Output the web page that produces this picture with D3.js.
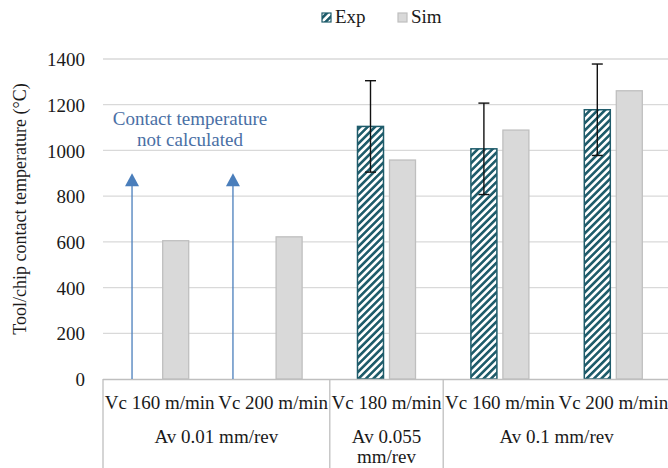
<!DOCTYPE html>
<html>
<head>
<meta charset="utf-8">
<script src="https://cdn.jsdelivr.net/npm/d3@7/dist/d3.min.js"></script>
</head>
<body style="margin:0">
<script>
// Cutting conditions (one entry per bar cluster)
const categories = ["Vc 160 m/min", "Vc 200 m/min", "Vc 180 m/min", "Vc 160 m/min", "Vc 200 m/min"];
const groups = [
  { label: ["Av 0.01 mm/rev"], span: 2 },
  { label: ["Av 0.055", "mm/rev"], span: 1 },
  { label: ["Av 0.1 mm/rev"], span: 2 }
];
// Measured (null = not calculated) and simulated contact temperatures, °C
const expValues = [null, null, 1105, 1007, 1178];
const expError  = [null, null, 200, 200, 200];
const simValues = [605, 622, 958, 1089, 1261];
const yTicks = [0, 200, 400, 600, 800, 1000, 1200, 1400];
// "not calculated" arrows: position along category index, tip value
const arrowPos = [0.256, 1.146];
const arrowTip = 900;

const W = 668, H = 468;
const mLeft = 103, mRight = 670, mTop = 59, mBottom = 379;
const FONT = "Liberation Serif";
const INK = "#1a1a1a";

// apply the serif face and size to a text selection
function serif(sel, size) {
  return sel.attr("font-size", size).style("font-family", FONT);
}

const svg = d3.select("body").append("svg").attr("width", W).attr("height", H)
  .style("display", "block");

const defs = svg.append("defs");
const pat = defs.append("pattern")
  .attr("id", "hatch").attr("patternUnits", "userSpaceOnUse")
  .attr("width", 5.2).attr("height", 5.2)
  .attr("patternTransform", "rotate(45)");
pat.append("rect").attr("width", 5.2).attr("height", 5.2).attr("fill", "#fff");
pat.append("line").attr("x1", 1.3).attr("y1", 0).attr("x2", 1.3).attr("y2", 5.2)
  .attr("stroke", "#1f5c6b").attr("stroke-width", 2.6);

const ids = categories.map((c, i) => i);
const x0 = d3.scaleBand().domain(ids).range([mLeft, mRight]).padding(0);
const x1 = d3.scaleBand().domain(["Exp", "Sim"]).range([0, 58]).paddingInner(0.1875);
const xi = d3.scaleLinear().domain([0, categories.length]).range([mLeft, mRight]);
const y = d3.scaleLinear().domain([0, 1400]).range([mBottom, mTop]);

// gridlines
svg.append("g").selectAll("line").data(yTicks.filter(t => t > 0)).join("line")
  .attr("x1", mLeft).attr("x2", W).attr("y1", d => y(d)).attr("y2", d => y(d))
  .attr("stroke", "#d9d9d9").attr("stroke-width", 1.3);

// y axis labels
const yAxis = d3.axisLeft(y).tickValues(yTicks).tickFormat(d3.format("d"))
  .tickSize(0).tickPadding(0);
const ya = svg.append("g").attr("transform", `translate(${mLeft - 18},0)`).call(yAxis);
ya.attr("font-family", null).attr("font-size", null);
ya.select(".domain").remove();
serif(ya.selectAll("text"), 19).attr("fill", INK).attr("dy", "0.35em");

// y axis title
serif(svg.append("text"), 18)
  .attr("transform", `translate(26,209) rotate(-90)`)
  .attr("text-anchor", "middle").attr("fill", INK)
  .text("Tool/chip contact temperature (°C)");

const off = (x0.bandwidth() - 58) / 2;

// simulated bars
svg.append("g").selectAll("rect").data(ids).join("rect")
  .attr("x", i => x0(i) + off + x1("Sim"))
  .attr("y", i => y(simValues[i]))
  .attr("width", x1.bandwidth())
  .attr("height", i => y(0) - y(simValues[i]))
  .attr("fill", "#d9d9d9").attr("stroke", "#bfbfbf").attr("stroke-width", 1.3);

// experimental bars
const expIds = ids.filter(i => expValues[i] != null);
svg.append("g").selectAll("rect").data(expIds).join("rect")
  .attr("x", i => x0(i) + off + x1("Exp"))
  .attr("y", i => y(expValues[i]))
  .attr("width", x1.bandwidth())
  .attr("height", i => y(0) - y(expValues[i]))
  .attr("fill", "url(#hatch)").attr("stroke", "#1f5c6b").attr("stroke-width", 1.5);

// error bars
const eb = svg.append("g").attr("stroke", "#111").attr("stroke-width", 1.4);
expIds.forEach(i => {
  const cx = x0(i) + off + x1("Exp") + x1.bandwidth() / 2;
  const hi = y(expValues[i] + expError[i]), lo = y(expValues[i] - expError[i]);
  eb.append("line").attr("x1", cx).attr("x2", cx).attr("y1", hi).attr("y2", lo);
  eb.append("line").attr("x1", cx - 5.5).attr("x2", cx + 5.5).attr("y1", hi).attr("y2", hi);
  eb.append("line").attr("x1", cx - 5.5).attr("x2", cx + 5.5).attr("y1", lo).attr("y2", lo);
});

// category axis
const axisColor = "#bfbfbf";
svg.append("line").attr("x1", mLeft).attr("x2", W).attr("y1", y(0) + 0.5).attr("y2", y(0) + 0.5)
  .attr("stroke", axisColor).attr("stroke-width", 1.3);
serif(svg.append("g").selectAll("text").data(ids).join("text"), 19)
  .attr("x", i => x0(i) + x0.bandwidth() / 2).attr("y", 409)
  .attr("text-anchor", "middle").attr("fill", INK)
  .text(i => categories[i]);

let start = 0;
const boundaries = [0];
groups.forEach(g => {
  const cx = xi(start + g.span / 2);
  g.label.forEach((t, k) => {
    serif(svg.append("text"), 19).attr("x", cx).attr("y", 443 + k * 20)
      .attr("text-anchor", "middle").attr("fill", INK).text(t);
  });
  start += g.span;
  boundaries.push(start);
});
svg.append("g").selectAll("line").data(boundaries).join("line")
  .attr("x1", d => xi(d)).attr("x2", d => xi(d))
  .attr("y1", y(0)).attr("y2", H)
  .attr("stroke", axisColor).attr("stroke-width", 1.3);

// "not calculated" arrows
const blue = "#4a7ebb";
arrowPos.forEach(p => {
  const ax = xi(p), tipY = y(arrowTip);
  svg.append("line").attr("x1", ax).attr("x2", ax).attr("y1", y(0)).attr("y2", tipY + 10)
    .attr("stroke", blue).attr("stroke-width", 1.3);
  svg.append("path")
    .attr("d", `M${ax},${tipY} L${ax + 7},${tipY + 13} L${ax - 7},${tipY + 13} Z`)
    .attr("fill", blue);
});
[["Contact temperature", 125], ["not calculated", 146]].forEach(([t, ty]) => {
  serif(svg.append("text"), 19).attr("x", 190).attr("y", ty).attr("text-anchor", "middle")
    .attr("fill", "#4a6fa5").text(t);
});

// legend
const legend = [
  { name: "Exp", fill: "url(#hatch)", stroke: "#1f5c6b", x: 322 },
  { name: "Sim", fill: "#d9d9d9", stroke: "#bfbfbf", x: 398 }
];
legend.forEach(l => {
  svg.append("rect").attr("x", l.x).attr("y", 13).attr("width", 9).attr("height", 9)
    .attr("fill", l.fill).attr("stroke", l.stroke).attr("stroke-width", 1.2);
  serif(svg.append("text"), 19).attr("x", l.x + 13).attr("y", 23).attr("fill", INK)
    .text(l.name);
});
</script>
</body>
</html>
